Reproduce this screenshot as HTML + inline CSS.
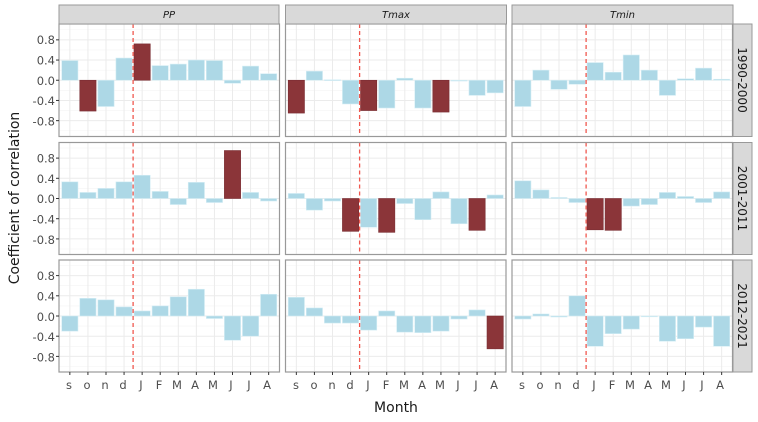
<!DOCTYPE html>
<html><head><meta charset="utf-8"><style>
html,body{margin:0;padding:0;background:#fff;}
svg{display:block;font-family:"DejaVu Sans","Liberation Sans",sans-serif;}
</style></head><body>
<svg id="s" width="758" height="422" viewBox="0 0 758 422" xmlns="http://www.w3.org/2000/svg">
<g id="g"></g>
<!-- strips -->
<g fill="#d9d9d9" stroke="#999" stroke-width="1">
<rect x="59" y="5" width="220" height="19"/>
<rect x="285.5" y="5" width="221" height="19"/>
<rect x="512" y="5" width="221" height="19"/>
<rect x="733" y="24" width="19" height="112.5"/>
<rect x="733" y="142.5" width="19" height="112"/>
<rect x="733" y="260" width="19" height="112"/>
</g>
<g font-size="10" font-style="italic" fill="#1a1a1a" text-anchor="middle">
<text x="169" y="18">PP</text>
<text x="396" y="18">Tmax</text>
<text x="622.5" y="18">Tmin</text>
</g>
<g font-size="12" fill="#1a1a1a" text-anchor="middle">
<text transform="translate(738,80) rotate(90)">1990-2000</text>
<text transform="translate(738,198.5) rotate(90)">2001-2011</text>
<text transform="translate(738,316) rotate(90)">2012-2021</text>
</g>
<g font-size="11.5" fill="#4d4d4d" text-anchor="end">
<text x="55" y="44">0.8</text><text x="55" y="64.5">0.4</text><text x="55" y="85">0.0</text><text x="55" y="105">-0.4</text><text x="55" y="125.5">-0.8</text>
<text x="55" y="162.5">0.8</text><text x="55" y="183">0.4</text><text x="55" y="203">0.0</text><text x="55" y="223.5">-0.4</text><text x="55" y="244">-0.8</text>
<text x="55" y="280">0.8</text><text x="55" y="300.5">0.4</text><text x="55" y="321">0.0</text><text x="55" y="341">-0.4</text><text x="55" y="361.5">-0.8</text>
</g>
<g id="mt" font-size="11.5" fill="#4d4d4d" text-anchor="middle">
<text x="69" y="389">s</text><text x="87" y="389">o</text><text x="105" y="389">n</text><text x="123" y="389">d</text><text x="141" y="389">J</text><text x="159" y="389">F</text><text x="177" y="389">M</text><text x="195" y="389">A</text><text x="213" y="389">M</text><text x="231" y="389">J</text><text x="249" y="389">J</text><text x="267" y="389">A</text>
<text x="296" y="389">s</text><text x="314" y="389">o</text><text x="332" y="389">n</text><text x="350" y="389">d</text><text x="368" y="389">J</text><text x="386" y="389">F</text><text x="404" y="389">M</text><text x="422" y="389">A</text><text x="440" y="389">M</text><text x="458" y="389">J</text><text x="476" y="389">J</text><text x="494" y="389">A</text>
<text x="522" y="389">s</text><text x="540" y="389">o</text><text x="558" y="389">n</text><text x="576" y="389">d</text><text x="594" y="389">J</text><text x="612" y="389">F</text><text x="630" y="389">M</text><text x="648" y="389">A</text><text x="666" y="389">M</text><text x="684" y="389">J</text><text x="702" y="389">J</text><text x="720" y="389">A</text>
</g>
<text x="396" y="412" font-size="14" fill="#1a1a1a" text-anchor="middle">Month</text>
<text transform="translate(19,198) rotate(-90)" font-size="14" fill="#1a1a1a" text-anchor="middle">Coefficient of correlation</text>
</svg>
<script>
var cols=[59,285.5,512],W=220.5,rows=[[24,112.5],[142.5,112],[260,112]];
var D=[
[[.39,-.61,-.52,.44,.72,.29,.32,.40,.39,-.06,.28,.13],[0,1,0,0,1,0,0,0,0,0,0,0]],
[[-.65,.18,.01,-.47,-.60,-.55,.04,-.55,-.63,0,-.30,-.25],[1,0,0,0,1,0,0,0,1,0,0,0]],
[[-.52,.20,-.18,-.08,.35,.16,.50,.20,-.30,.03,.24,.02],[0,0,0,0,0,0,0,0,0,0,0,0]],
[[.33,.12,.20,.33,.46,.14,-.12,.32,-.08,.95,.12,-.05],[0,0,0,0,0,0,0,0,0,1,0,0]],
[[.10,-.23,-.05,-.65,-.57,-.67,-.10,-.42,.13,-.50,-.63,.07],[0,0,0,1,0,1,0,0,0,0,1,0]],
[[.35,.17,.02,-.08,-.62,-.63,-.15,-.12,.12,.04,-.08,.13],[0,0,0,0,1,1,0,0,0,0,0,0]],
[[-.30,.35,.32,.18,.10,.20,.38,.53,-.05,-.48,-.40,.43],[0,0,0,0,0,0,0,0,0,0,0,0]],
[[.37,.16,-.14,-.14,-.28,.10,-.32,-.33,-.30,-.06,.12,-.65],[0,0,0,0,0,0,0,0,0,0,0,1]],
[[-.06,.04,-.02,.40,-.60,-.35,-.26,-.01,-.50,-.45,-.22,-.60],[0,0,0,0,0,0,0,0,0,0,0,0]]];
var h='';
for(var r=0;r<3;r++)for(var c=0;c<3;c++){
 var x0=cols[c],y0=rows[r][0],H=rows[r][1],zy=y0+H/2,k=50.5,u=W/12.2;
 h+='<rect x="'+x0+'" y="'+y0+'" width="'+W+'" height="'+H+'" fill="#fff"/>';
 for(var v=-1;v<=1.01;v+=0.2){var yy=zy-v*k;if(yy>y0&&yy<y0+H)h+='<line x1="'+x0+'" x2="'+(x0+W)+'" y1="'+yy+'" y2="'+yy+'" stroke="'+(Math.round(v*10)%4==0?'#ebebeb':'#f4f4f4')+'" stroke-width="'+(Math.round(v*10)%4==0?1:0.6)+'"/>';}
 for(var i=0;i<12;i++){var xx=x0+(i+0.6)*u;h+='<line x1="'+xx+'" x2="'+xx+'" y1="'+y0+'" y2="'+(y0+H)+'" stroke="#ebebeb"/>';}
 var d=D[r*3+c];
 for(var i=0;i<12;i++){var v=d[0][i],xx=x0+(i+0.6-0.45)*u,yt=v>0?zy-v*k:zy,hh=Math.abs(v)*k;
  h+='<rect x="'+xx+'" y="'+yt+'" width="'+(0.9*u)+'" height="'+Math.max(hh,0.8)+'" fill="'+(d[1][i]?'#8b3539':'#add8e6')+'" stroke="'+(d[1][i]?'#7a2e33':'#d6eef5')+'" stroke-width="0.6"/>';}
 var dx=x0+(4.1)*u;
 h+='<line x1="'+dx+'" x2="'+dx+'" y1="'+y0+'" y2="'+(y0+H)+'" stroke="#f0584f" stroke-width="1.3" stroke-dasharray="4,3"/>';
 h+='<rect x="'+x0+'" y="'+y0+'" width="'+W+'" height="'+H+'" fill="none" stroke="#999" stroke-width="1.2"/>';
 if(c==0)for(var v=-0.8;v<=0.81;v+=0.4){var yy=zy-v*k;h+='<line x1="'+(x0-3)+'" x2="'+x0+'" y1="'+yy+'" y2="'+yy+'" stroke="#333"/>';}
 if(r==2)for(var i=0;i<12;i++){var xx=x0+(i+0.6)*u;h+='<line x1="'+xx+'" x2="'+xx+'" y1="'+(y0+H)+'" y2="'+(y0+H+3)+'" stroke="#333"/>';}
}
document.getElementById('g').innerHTML=h;
</script>
</body></html>
